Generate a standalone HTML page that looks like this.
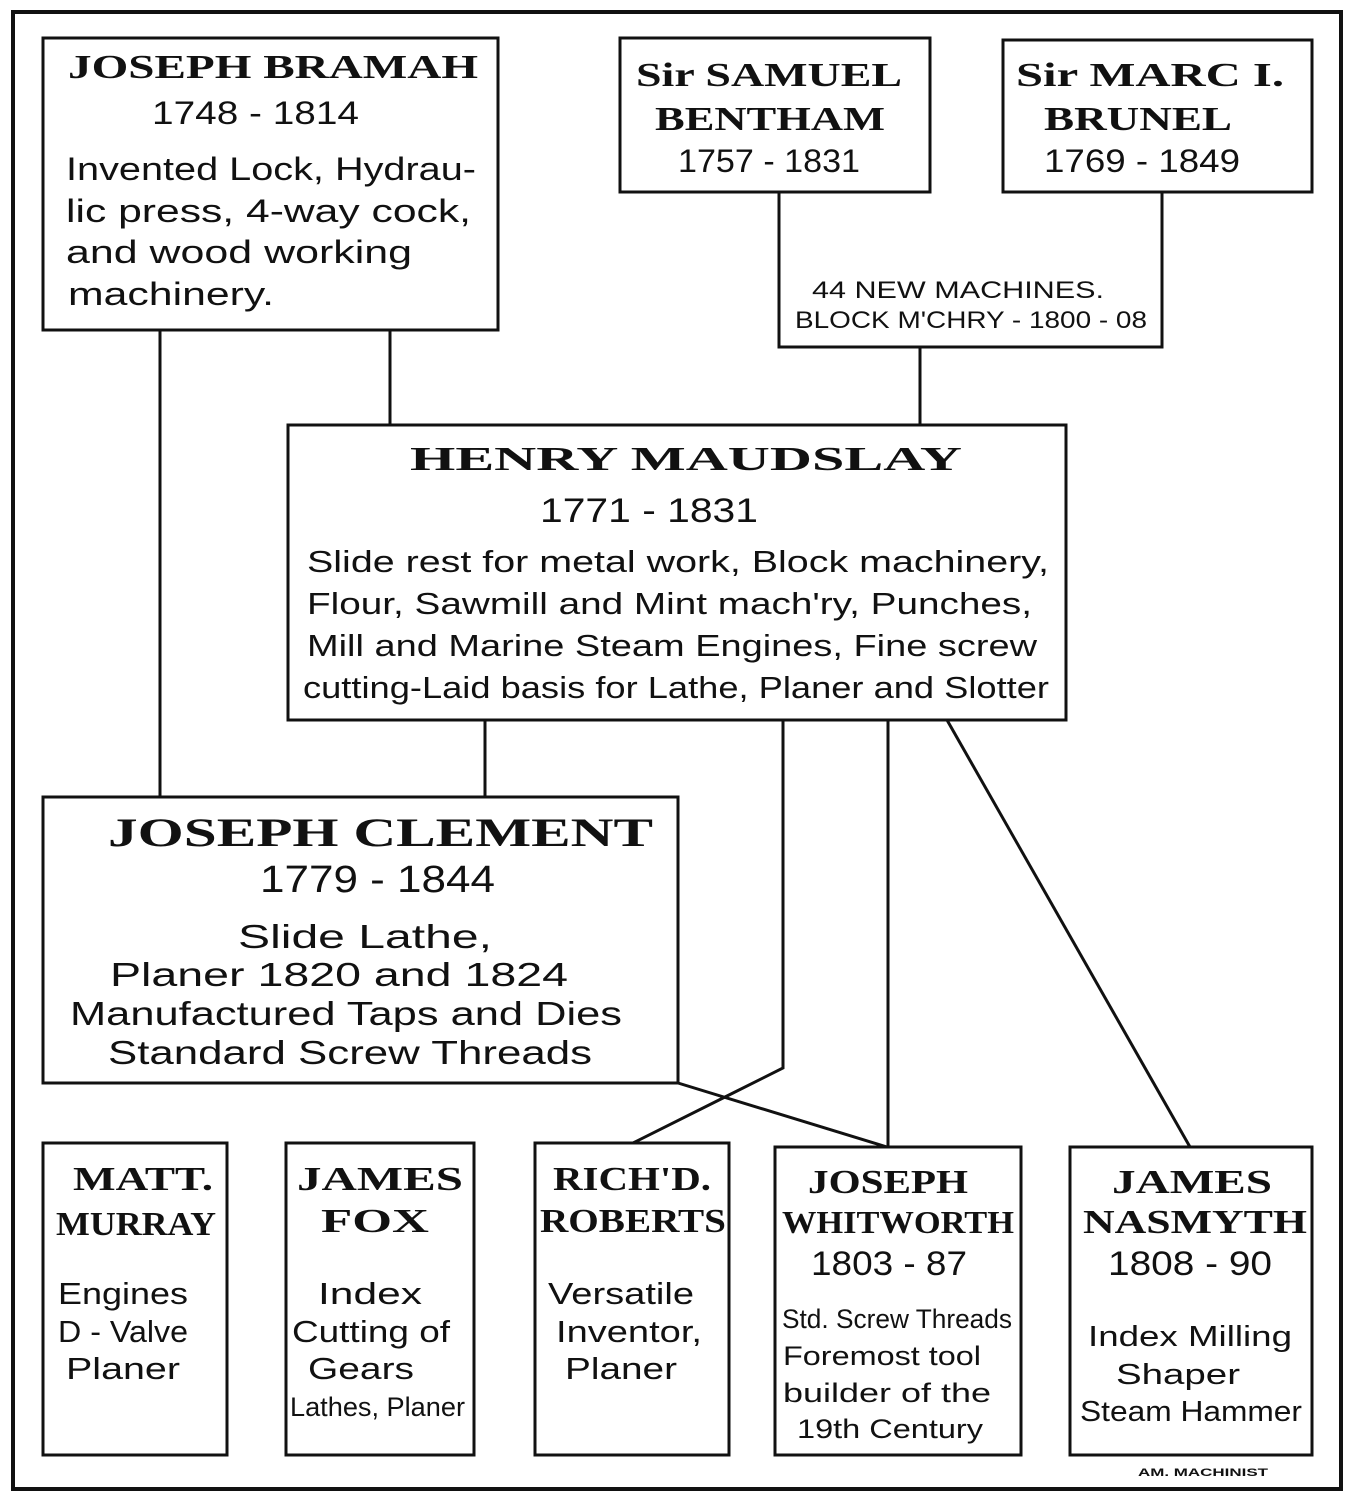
<!DOCTYPE html>
<html><head><meta charset="utf-8"><style>
body{margin:0;background:#fff}
svg{display:block}
text{font-family:"Liberation Sans",sans-serif;fill:#111}
.h{font-weight:bold;font-family:"Liberation Serif",serif}
</style></head><body>
<svg width="1354" height="1500" viewBox="0 0 1354 1500" xmlns="http://www.w3.org/2000/svg">
<rect x="13" y="12" width="1328" height="1477" fill="none" stroke="#111" stroke-width="4"/>
<g fill="none" stroke="#111" stroke-width="3">
<rect x="43" y="38" width="455" height="292"/>
<rect x="620" y="38" width="310" height="154"/>
<rect x="1003" y="40" width="309" height="152"/>
<polyline points="779,192 779,347 1162,347 1162,192"/>
<line x1="920" y1="347" x2="920" y2="425"/>
<line x1="390" y1="330" x2="390" y2="425"/>
<line x1="160" y1="330" x2="160" y2="797"/>
<rect x="288" y="425" width="778" height="295"/>
<rect x="43" y="797" width="635" height="286"/>
<line x1="485" y1="720" x2="485" y2="797"/>
<rect x="43" y="1143" width="184" height="312"/>
<rect x="286" y="1143" width="188" height="312"/>
<rect x="535" y="1143" width="194" height="312"/>
<rect x="775" y="1147" width="246" height="308"/>
<rect x="1070" y="1147" width="242" height="308"/>
<polyline points="783,720 783,1068 733,1093 633,1143"/>
<polyline points="678,1083 887,1147"/>
<line x1="888" y1="720" x2="888" y2="1147"/>
<line x1="947" y1="720" x2="1190" y2="1147"/>
</g>
<g font-size="34" lengthAdjust="spacingAndGlyphs">
<text class="h" x="68" y="78" textLength="410" lengthAdjust="spacingAndGlyphs">JOSEPH BRAMAH</text>
<text x="152" y="124" font-size="32" textLength="207" lengthAdjust="spacingAndGlyphs">1748 - 1814</text>
<text x="66" y="180" font-size="32" textLength="410" lengthAdjust="spacingAndGlyphs">Invented Lock, Hydrau-</text>
<text x="66" y="222" font-size="32" textLength="405" lengthAdjust="spacingAndGlyphs">lic press, 4-way cock,</text>
<text x="66" y="263" font-size="32" textLength="346" lengthAdjust="spacingAndGlyphs">and wood working</text>
<text x="68" y="305" font-size="32" textLength="206" lengthAdjust="spacingAndGlyphs">machinery.</text>

<text class="h" x="636" y="86" textLength="266" lengthAdjust="spacingAndGlyphs">Sir SAMUEL</text>
<text class="h" x="655" y="130" textLength="230" lengthAdjust="spacingAndGlyphs">BENTHAM</text>
<text x="678" y="172" font-size="32" textLength="182" lengthAdjust="spacingAndGlyphs">1757 - 1831</text>
<text class="h" x="1016" y="86" textLength="268" lengthAdjust="spacingAndGlyphs">Sir MARC I.</text>
<text class="h" x="1044" y="130" textLength="188" lengthAdjust="spacingAndGlyphs">BRUNEL</text>
<text x="1044" y="172" font-size="32" textLength="196" lengthAdjust="spacingAndGlyphs">1769 - 1849</text>
<text x="812" y="298" font-size="24" textLength="292" lengthAdjust="spacingAndGlyphs">44 NEW MACHINES.</text>
<text x="795" y="328" font-size="24" textLength="352" lengthAdjust="spacingAndGlyphs">BLOCK M'CHRY - 1800 - 08</text>

<text class="h" x="410" y="470" textLength="552" lengthAdjust="spacingAndGlyphs">HENRY   MAUDSLAY</text>
<text x="540" y="522" textLength="218" lengthAdjust="spacingAndGlyphs">1771  - 1831</text>
<text x="307" y="572" font-size="31" textLength="742" lengthAdjust="spacingAndGlyphs">Slide rest for metal work, Block machinery,</text>
<text x="307" y="614" font-size="31" textLength="725" lengthAdjust="spacingAndGlyphs">Flour, Sawmill and Mint mach'ry, Punches,</text>
<text x="307" y="656" font-size="31" textLength="730" lengthAdjust="spacingAndGlyphs">Mill and Marine Steam Engines, Fine screw</text>
<text x="303" y="698" font-size="31" textLength="746" lengthAdjust="spacingAndGlyphs">cutting-Laid basis for Lathe, Planer and Slotter</text>

<text class="h" x="108" y="846" font-size="40" textLength="545" lengthAdjust="spacingAndGlyphs">JOSEPH  CLEMENT</text>
<text x="260" y="892" font-size="38" textLength="235" lengthAdjust="spacingAndGlyphs">1779 - 1844</text>
<text x="238" y="948" font-size="33" textLength="254" lengthAdjust="spacingAndGlyphs">Slide  Lathe,</text>
<text x="110" y="986" font-size="33" textLength="458" lengthAdjust="spacingAndGlyphs">Planer  1820  and  1824</text>
<text x="70" y="1025" font-size="33" textLength="552" lengthAdjust="spacingAndGlyphs">Manufactured  Taps and  Dies</text>
<text x="108" y="1064" font-size="33" textLength="484" lengthAdjust="spacingAndGlyphs">Standard  Screw  Threads</text>

<text class="h" x="73" y="1190" textLength="140" lengthAdjust="spacingAndGlyphs">MATT.</text>
<text class="h" x="56" y="1235" textLength="160" lengthAdjust="spacingAndGlyphs">MURRAY</text>
<text x="58" y="1304" font-size="31" textLength="130" lengthAdjust="spacingAndGlyphs">Engines</text>
<text x="58" y="1342" font-size="31" textLength="130" lengthAdjust="spacingAndGlyphs">D - Valve</text>
<text x="66" y="1379" font-size="31" textLength="114" lengthAdjust="spacingAndGlyphs">Planer</text>

<text class="h" x="297" y="1190" textLength="166" lengthAdjust="spacingAndGlyphs">JAMES</text>
<text class="h" x="321" y="1232" textLength="108" lengthAdjust="spacingAndGlyphs">FOX</text>
<text x="318" y="1304" font-size="31" textLength="104" lengthAdjust="spacingAndGlyphs">Index</text>
<text x="292" y="1342" font-size="31" textLength="158" lengthAdjust="spacingAndGlyphs">Cutting of</text>
<text x="308" y="1379" font-size="31" textLength="106" lengthAdjust="spacingAndGlyphs">Gears</text>
<text x="290" y="1416" font-size="27" textLength="175" lengthAdjust="spacingAndGlyphs">Lathes, Planer</text>

<text class="h" x="553" y="1190" textLength="158" lengthAdjust="spacingAndGlyphs">RICH'D.</text>
<text class="h" x="540" y="1232" textLength="186" lengthAdjust="spacingAndGlyphs">ROBERTS</text>
<text x="548" y="1304" font-size="31" textLength="146" lengthAdjust="spacingAndGlyphs">Versatile</text>
<text x="556" y="1342" font-size="31" textLength="146" lengthAdjust="spacingAndGlyphs">Inventor,</text>
<text x="565" y="1379" font-size="31" textLength="112" lengthAdjust="spacingAndGlyphs">Planer</text>

<text class="h" x="808" y="1193" textLength="160" lengthAdjust="spacingAndGlyphs">JOSEPH</text>
<text class="h" x="782" y="1233" font-size="32" textLength="232" lengthAdjust="spacingAndGlyphs">WHITWORTH</text>
<text x="811" y="1275" font-size="34" textLength="156" lengthAdjust="spacingAndGlyphs">1803 - 87</text>
<text x="782" y="1328" font-size="27" textLength="230" lengthAdjust="spacingAndGlyphs">Std. Screw Threads</text>
<text x="783" y="1365" font-size="27" textLength="198" lengthAdjust="spacingAndGlyphs">Foremost tool</text>
<text x="783" y="1402" font-size="27" textLength="208" lengthAdjust="spacingAndGlyphs">builder of the</text>
<text x="797" y="1438" font-size="27" textLength="186" lengthAdjust="spacingAndGlyphs">19th Century</text>

<text class="h" x="1112" y="1193" textLength="160" lengthAdjust="spacingAndGlyphs">JAMES</text>
<text class="h" x="1083" y="1233" textLength="224" lengthAdjust="spacingAndGlyphs">NASMYTH</text>
<text x="1108" y="1275" font-size="34" textLength="164" lengthAdjust="spacingAndGlyphs">1808 - 90</text>
<text x="1088" y="1346" font-size="29" textLength="204" lengthAdjust="spacingAndGlyphs">Index Milling</text>
<text x="1116" y="1384" font-size="29" textLength="124" lengthAdjust="spacingAndGlyphs">Shaper</text>
<text x="1080" y="1421" font-size="29" textLength="222" lengthAdjust="spacingAndGlyphs">Steam Hammer</text>

<text x="1138" y="1476" font-size="11" font-weight="bold" textLength="130" lengthAdjust="spacingAndGlyphs">AM. MACHINIST</text>
</g>
</svg>
</body></html>
